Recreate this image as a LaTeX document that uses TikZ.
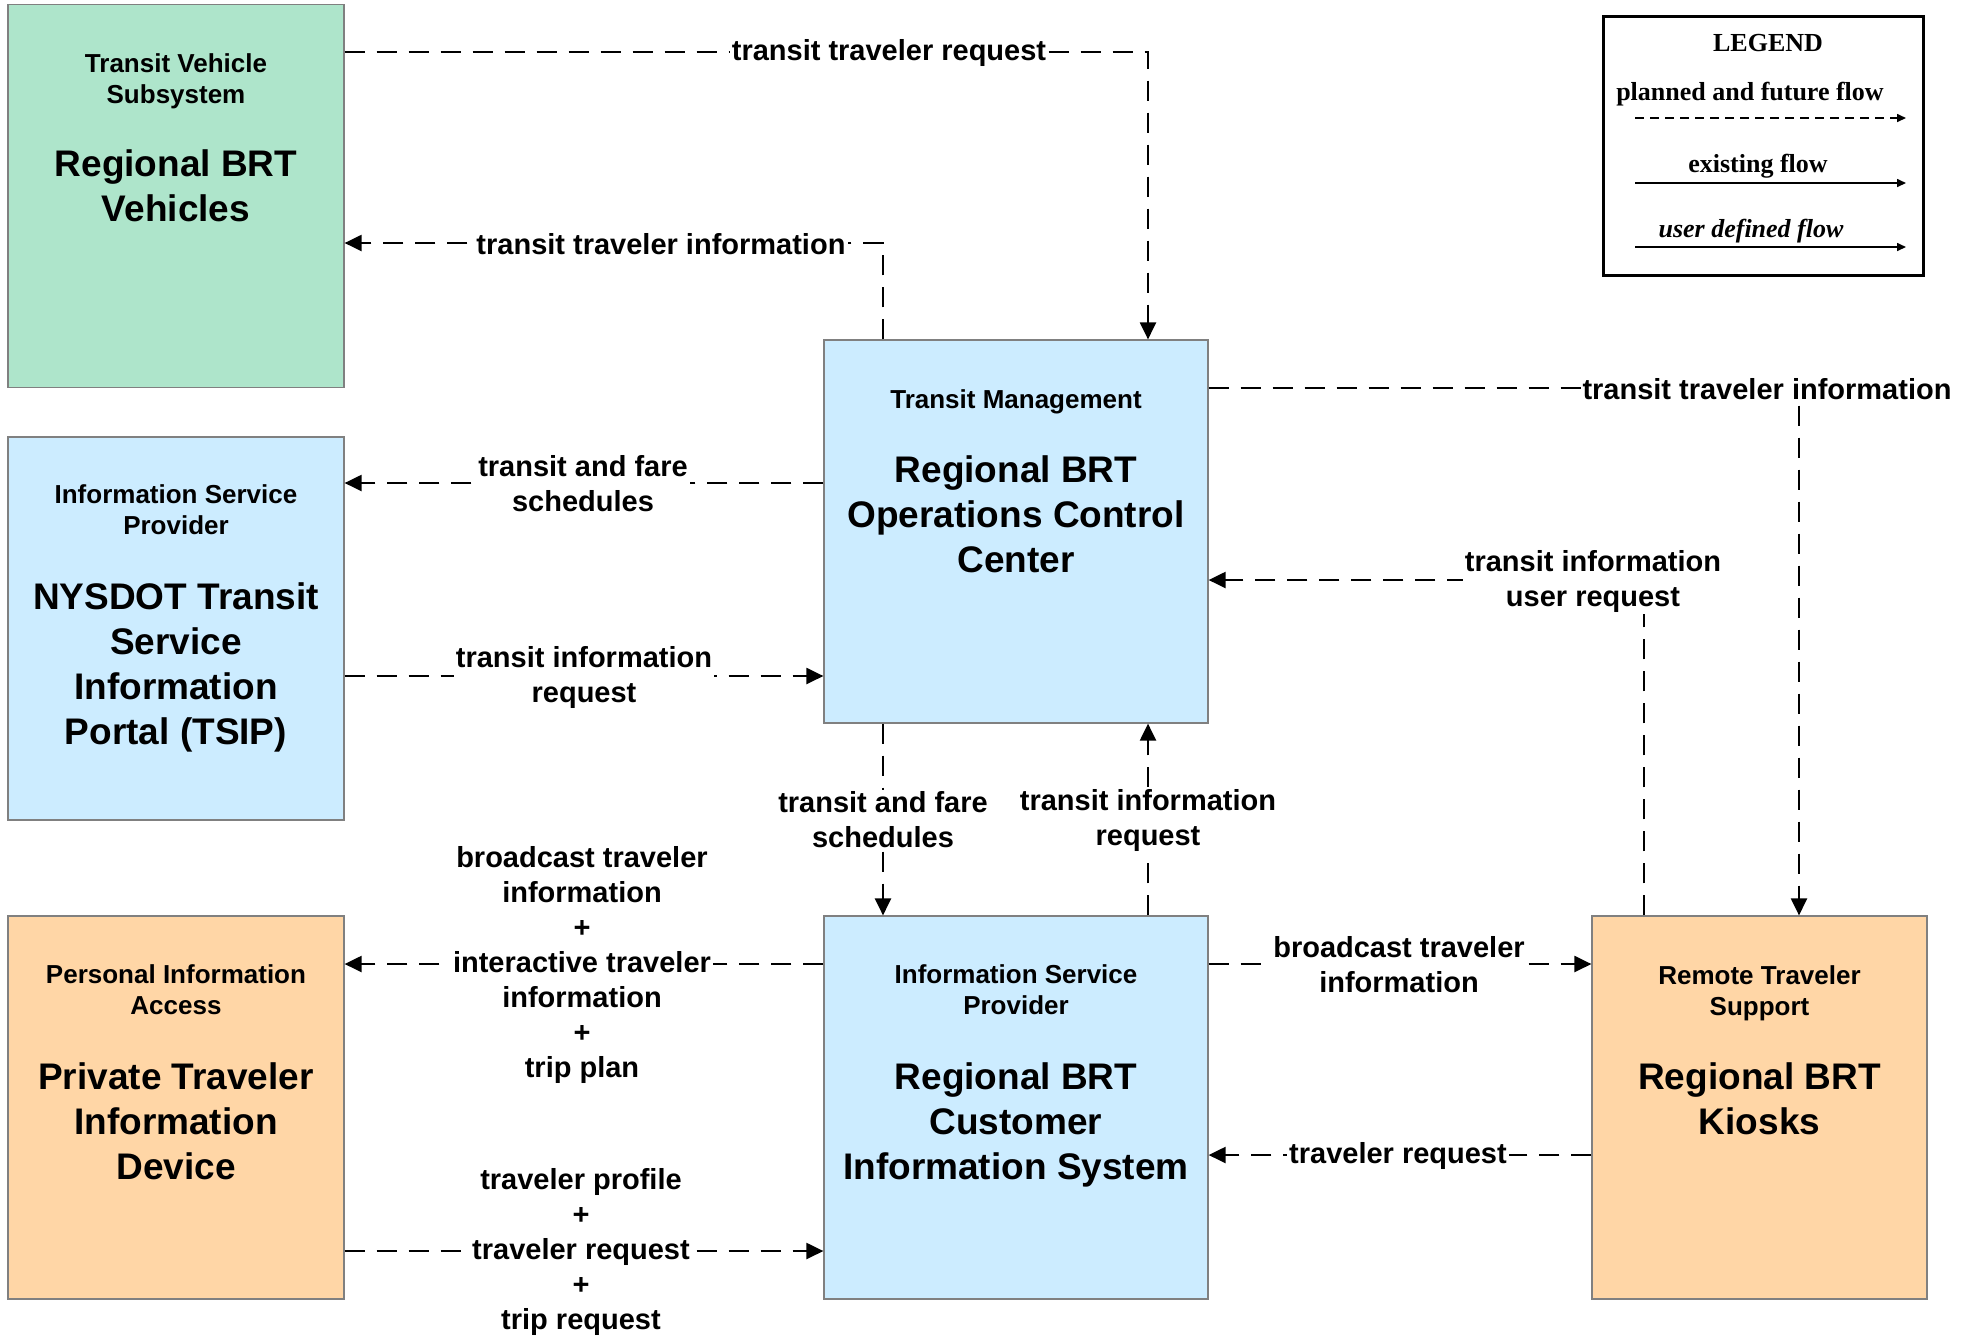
\documentclass[tikz,border=0pt]{standalone}
\usepackage{fontspec}
\setmainfont{Liberation Sans}
\newfontfamily\legendfont{Liberation Serif}
\usetikzlibrary{arrows.meta}
\definecolor{vehgreen}{RGB}{174,229,203}
\definecolor{sysblue}{RGB}{204,236,255}
\definecolor{userorange}{RGB}{255,214,166}
\definecolor{boxgray}{RGB}{128,128,128}
\begin{document}
\begin{tikzpicture}[x=0.5pt, y=-0.5pt,
        sysbox/.style={draw=boxgray, line width=0.6pt, inner sep=0pt, minimum height=191.5pt},
        hdr/.style={align=center, font=\fontsize{13}{15.5}\selectfont\bfseries},
        big/.style={align=center, font=\fontsize{18.5}{22.5}\selectfont\bfseries},
        lbl/.style={fill=white, inner sep=1pt, align=center, font=\fontsize{14.5}{17.5}\selectfont\bfseries},
        flow/.style={line width=1.1pt, dash pattern=on 10pt off 6pt, -{Triangle[length=8.5pt,width=8pt]}},
        keyline/.style={line width=0.8pt, -{Triangle[length=4.5pt,width=4pt]}},
        keytext/.style={anchor=base, font=\legendfont\fontsize{13}{15}\selectfont\bfseries}]
        \useasboundingbox (0,0) rectangle (1975,1335);

        \node[sysbox, fill=vehgreen, minimum width=168pt] (veh) at (176,196) {};
        \node[sysbox, fill=sysblue, minimum width=168pt] (tsip) at (176,628.5) {};
        \node[sysbox, fill=userorange, minimum width=168pt] (pid) at (176,1107.5) {};
        \node[sysbox, fill=sysblue, minimum width=192pt] (occ) at (1016,531.5) {};
        \node[sysbox, fill=sysblue, minimum width=192pt] (cis) at (1016,1107.5) {};
        \node[sysbox, fill=userorange, minimum width=167.5pt] (kio) at (1759.5,1107.5) {};

        \node[hdr] (veh-h) at (176,81) {Transit Vehicle\\Subsystem};
        \node[big] (veh-n) at (176,186) {Regional BRT\\Vehicles};
        \node[hdr] (tsip-h) at (176,510) {Information Service\\Provider};
        \node[big] (tsip-n) at (176,667.5) {NYSDOT Transit\\Service\\Information\\Portal (TSIP)};
        \node[hdr] (pid-h) at (176,989.5) {Personal Information\\Access};
        \node[big] (pid-n) at (176,1121) {Private Traveler\\Information\\Device};
        \node[hdr] (occ-h) at (1016,402) {Transit Management};
        \node[big] (occ-n) at (1016,514) {Regional BRT\\Operations Control\\Center};
        \node[hdr] (cis-h) at (1016,989.5) {Information Service\\Provider};
        \node[big] (cis-n) at (1016,1125) {Regional BRT\\Customer\\Information System};
        \node[hdr] (kio-h) at (1759.5,993.5) {Remote Traveler\\Support};
        \node[big] (kio-n) at (1759.5,1098.5) {Regional BRT\\Kiosks};

        \draw[flow] (veh.east |- 0,52) -| (occ.north -| 1148,0);
        \draw[flow] (occ.north -| 883,0) |- (veh.east |- 0,243);
        \draw[flow] (occ.east |- 0,388) -| (kio.north -| 1799,0);
        \draw[flow] (kio.north -| 1644,0) |- (occ.east |- 0,580);
        \draw[flow] (occ.west |- 0,483) -- (tsip.east |- 0,483);
        \draw[flow] (tsip.east |- 0,676) -- (occ.west |- 0,676);
        \draw[flow] (occ.south -| 883,0) -- (cis.north -| 883,0);
        \draw[flow] (cis.north -| 1148,0) -- (occ.south -| 1148,0);
        \draw[flow] (cis.west |- 0,964) -- (pid.east |- 0,964);
        \draw[flow] (pid.east |- 0,1251) -- (cis.west |- 0,1251);
        \draw[flow] (cis.east |- 0,964) -- (kio.west |- 0,964);
        \draw[flow] (kio.west |- 0,1155) -- (cis.east |- 0,1155);

        \node[lbl] (l-req) at (889,53) {transit traveler request};
        \node[lbl] (l-vinfo) at (661,244) {transit traveler information};
        \node[lbl] (l-kinfo) at (1767,389) {transit traveler information};
        \node[lbl] (l-user) at (1593,581) {transit information\\user request};
        \node[lbl] (l-tsched) at (583,484) {transit and fare\\schedules};
        \node[lbl] (l-treq) at (584,677) {transit information\\request};
        \node[lbl] (l-csched) at (883,820) {transit and fare\\schedules};
        \node[lbl] (l-creq) at (1148,820) {transit information\\request};
        \node[lbl] (l-pinfo) at (582,965) {broadcast traveler\\information\\+\\interactive traveler\\information\\+\\trip plan};
        \node[lbl] (l-preq) at (581,1252) {traveler profile\\+\\traveler request\\+\\trip request};
        \node[lbl] (l-kbc) at (1399,965) {broadcast traveler\\information};
        \node[lbl] (l-kreq) at (1398,1156) {traveler request};

        \node[draw, line width=1.5pt, minimum width=160pt, minimum height=129.5pt] (legend) at (1763,145.5) {};
        \node[keytext] (leg-title) at (1768,51) {LEGEND};
        \node[keytext] (leg-plan) at (1750,100) {planned and future flow};
        \node[keytext] (leg-exist) at (1758,172) {existing flow};
        \node[keytext, font=\legendfont\fontsize{13}{15}\selectfont\bfseries\itshape] (leg-user) at (1751,237) {user defined flow};
        \coordinate (k1a) at (1635,118);
        \coordinate (k1b) at (1906,118);
        \coordinate (k2a) at (1635,183);
        \coordinate (k2b) at (1906,183);
        \coordinate (k3a) at (1635,247);
        \coordinate (k3b) at (1906,247);
        \draw[keyline, dash pattern=on 4.5pt off 3pt] (k1a) -- (k1b);
        \draw[keyline] (k2a) -- (k2b);
        \draw[keyline] (k3a) -- (k3b);
    \end{tikzpicture}
\end{document}
